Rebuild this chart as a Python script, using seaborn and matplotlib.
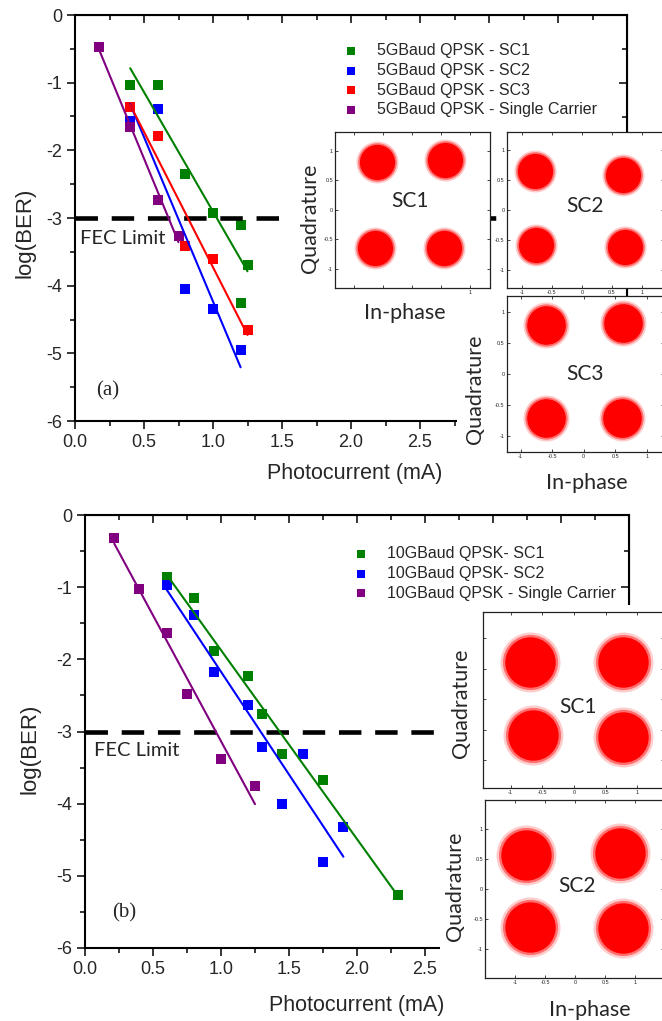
import numpy as np
import matplotlib
matplotlib.use("Agg")
import matplotlib.pyplot as plt
from matplotlib.ticker import MultipleLocator, FixedLocator, FixedFormatter, FuncFormatter
import seaborn as sns

# ---- panel (a): 5 GBaud QPSK ----
a_sc1_x = [0.4, 0.6, 0.8, 1.0, 1.2, 1.25, 1.2]
a_sc1_y = [-1.04, -1.04, -2.35, -2.92, -3.10, -3.69, -4.25]
a_sc2_x = [0.4, 0.6, 0.8, 1.0, 1.2]
a_sc2_y = [-1.57, -1.39, -4.05, -4.35, -4.95]
a_sc3_x = [0.4, 0.6, 0.8, 1.0, 1.25]
a_sc3_y = [-1.36, -1.79, -3.42, -3.61, -4.66]
a_single_x = [0.175, 0.4, 0.6, 0.75]
a_single_y = [-0.47, -1.65, -2.735, -3.26]

# ---- panel (b): 10 GBaud QPSK ----
b_sc1_x = [0.6, 0.8, 0.95, 1.2, 1.3, 1.45, 1.75, 2.3]
b_sc1_y = [-0.86, -1.145, -1.89, -2.23, -2.76, -3.31, -3.67, -5.27]
b_sc2_x = [0.6, 0.8, 0.95, 1.2, 1.3, 1.45, 1.6, 1.75, 1.9]
b_sc2_y = [-0.97, -1.39, -2.17, -2.63, -3.21, -4.0, -3.31, -4.81, -4.32]
b_single_x = [0.215, 0.4, 0.6, 0.75, 1.0, 1.25]
b_single_y = [-0.314, -1.02, -1.635, -2.48, -3.38, -3.75]

labels_a = ["5GBaud QPSK - SC1", "5GBaud QPSK - SC2", "5GBaud QPSK - SC3",
            "5GBaud QPSK - Single Carrier"]
labels_b = ["10GBaud QPSK- SC1", "10GBaud QPSK- SC2", "10GBaud QPSK - Single Carrier"]
fec_limit = -3
last_x_label = 2.5  # ticks further right sit under the insets

# constellation cluster centres (I, Q)
con_a1_i = [-0.60, 0.57, -0.64, 0.54]
con_a1_q = [0.81, 0.84, -0.65, -0.65]
con_a2_i = [-0.78, 0.69, -0.77, 0.72]
con_a2_q = [0.65, 0.59, -0.59, -0.62]
con_a3_i = [-0.60, 0.62, -0.60, 0.60]
con_a3_q = [0.80, 0.82, -0.71, -0.71]
con_b1_i = [-0.69, 0.78, -0.64, 0.78]
con_b1_q = [0.62, 0.62, -0.59, -0.61]
con_b2_i = [-0.81, 0.75, -0.75, 0.80]
con_b2_q = [0.57, 0.60, -0.62, -0.65]

GREEN, BLUE, RED, PURPLE = "#008000", "#0000ff", "#ff0000", "#800080"
W, H = 662, 1021

sns.set_style("ticks")
plt.rcParams["font.family"] = ["Liberation Sans", "DejaVu Sans"]
plt.rcParams["axes.unicode_minus"] = False
CAL = ["Lato", "DejaVu Sans"]


def box(x0, y0, x1, y1):
    return [x0 / W, 1 - y1 / H, (x1 - x0) / W, (y1 - y0) / H]


def fx(x):
    return x / W


def fy(y):
    return 1 - y / H


fig = plt.figure(figsize=(W / 100, H / 100), dpi=100)
fig.patch.set_facecolor("white")


def main_panel(rect, series, legend_xy, tag, tag_xy, fec_xy):
    ax = fig.add_axes(rect)
    for x, y, c, lab in series:
        sns.regplot(x=np.array(x), y=np.array(y), ax=ax, ci=None, truncate=True,
                    marker="s", color=c, label=lab,
                    scatter_kws={"s": 52, "alpha": 1, "linewidths": 0},
                    line_kws={"lw": 1.5})
    ax.axhline(fec_limit, color="black", lw=3.3, ls=(0, (4.9, 3.0)), zorder=1)
    ax.set_xlim(0, 4.0)
    ax.set_ylim(-6, 0)
    ax.set_xlabel("")
    ax.set_ylabel("")
    ax.xaxis.set_major_locator(MultipleLocator(0.5))
    ax.xaxis.set_minor_locator(MultipleLocator(0.25))
    ax.yaxis.set_major_locator(MultipleLocator(1))
    ax.yaxis.set_minor_locator(MultipleLocator(0.5))
    ax.xaxis.set_major_formatter(
        FuncFormatter(lambda v, p: f"{v:.1f}" if v <= last_x_label + 0.01 else ""))
    ax.tick_params(which="major", direction="out", length=6, width=1.3, labelsize=13, pad=3)
    ax.tick_params(which="minor", direction="out", length=3.5, width=1.3)
    for s in ax.spines.values():
        s.set_visible(True)
        s.set_linewidth(1.5)
        s.set_color("black")
    top = ax.secondary_xaxis("top")
    top.xaxis.set_major_locator(MultipleLocator(0.5))
    top.xaxis.set_minor_locator(MultipleLocator(0.25))
    top.tick_params(which="major", direction="in", length=6, width=1.3, labeltop=False)
    top.tick_params(which="minor", direction="in", length=3.5, width=1.3)
    right = ax.secondary_yaxis("right")
    right.yaxis.set_major_locator(MultipleLocator(1))
    right.yaxis.set_minor_locator(MultipleLocator(0.5))
    right.tick_params(which="major", direction="in", length=6, width=1.3, labelright=False)
    right.tick_params(which="minor", direction="in", length=3.5, width=1.3)
    ax.text(fec_xy[0], fec_xy[1], "FEC Limit", family=CAL, fontsize=14.5,
            ha="left", va="center")
    ax.text(tag_xy[0], tag_xy[1], tag, family=["Liberation Serif"], fontsize=15,
            ha="center", va="center")
    ax.legend(loc="upper left", bbox_to_anchor=legend_xy, bbox_transform=fig.transFigure,
              frameon=False, borderpad=0, borderaxespad=0, handlelength=0.8,
              handletextpad=1.2, labelspacing=0.3, fontsize=11.5, markerscale=0.7)
    return ax


ax_a = main_panel(box(75, 15, 627, 421),
                  [(a_sc1_x, a_sc1_y, GREEN, labels_a[0]),
                   (a_sc2_x, a_sc2_y, BLUE, labels_a[1]),
                   (a_sc3_x, a_sc3_y, RED, labels_a[2]),
                   (a_single_x, a_single_y, PURPLE, labels_a[3])],
                  (fx(345), fy(43)), "(a)", (0.24, -5.56), (0.036, -3.3))
ax_b = main_panel(box(85, 515, 629, 948),
                  [(b_sc1_x, b_sc1_y, GREEN, labels_b[0]),
                   (b_sc2_x, b_sc2_y, BLUE, labels_b[1]),
                   (b_single_x, b_single_y, PURPLE, labels_b[2])],
                  (fx(355), fy(546)), "(b)", (0.29, -5.51), (0.066, -3.27))

fig.text(fx(25), fy(233), "log(BER)", rotation=90, fontsize=16, ha="center", va="center")
fig.text(fx(30), fy(749), "log(BER)", rotation=90, fontsize=16, ha="center", va="center")
fig.text(fx(355), fy(474), "Photocurrent (mA)", fontsize=15.5, ha="center", va="center")
fig.text(fx(357), fy(1005), "Photocurrent (mA)", fontsize=15.5, ha="center", va="center")

# white backgrounds behind the pasted constellation insets
for bx in [(287, 125, 490, 330), (457, 296, 664, 500), (440, 605, 664, 797),
           (440, 797, 664, 1021)]:
    bg = fig.add_axes(box(*bx))
    bg.set_facecolor("white")
    bg.set_xticks([])
    bg.set_yticks([])
    for s in bg.spines.values():
        s.set_visible(False)


def constellation(rect, xlim, ylim, ci, cq, r_px, name, name_xy,
                  xlabels=True, ylabels=True, only_one=False):
    ax = fig.add_axes(rect)
    ax.set_facecolor("white")
    d = 2 * r_px * 0.72
    sns.scatterplot(x=ci, y=cq, ax=ax, s=d ** 2, color=RED, alpha=0.2,
                    linewidth=0, legend=False)
    sns.scatterplot(x=ci, y=cq, ax=ax, s=(d * 0.92) ** 2, color=RED, alpha=0.45,
                    linewidth=0, legend=False)
    sns.scatterplot(x=ci, y=cq, ax=ax, s=(d * 0.84) ** 2, color=RED, alpha=1,
                    linewidth=0, legend=False)
    ax.set_xlim(*xlim)
    ax.set_ylim(*ylim)
    ticks = [-1, -0.5, 0, 0.5, 1]
    names = ["-1", "-0.5", "0", "0.5", "1"]
    ax.xaxis.set_major_locator(FixedLocator(ticks))
    ax.yaxis.set_major_locator(FixedLocator(ticks))
    if only_one:
        ax.xaxis.set_major_formatter(FixedFormatter(["", "", "", "", "1"]))
    else:
        ax.xaxis.set_major_formatter(FixedFormatter(names))
    ax.yaxis.set_major_formatter(FixedFormatter(names))
    ax.tick_params(direction="in", length=2, width=0.6, labelsize=4, pad=1.5,
                   top=True, right=True, labelbottom=xlabels, labelleft=ylabels)
    ax.set_xlabel("")
    ax.set_ylabel("")
    for s in ax.spines.values():
        s.set_visible(True)
        s.set_linewidth(0.9)
        s.set_color("#222222")
    fig.text(fx(name_xy[0]), fy(name_xy[1]), name, family=CAL, fontsize=15,
             ha="center", va="center")
    return ax


constellation(box(335, 132, 490, 288), (-1.33, 1.34), (-1.33, 1.32),
              con_a1_i, con_a1_q, 21, "SC1", (410, 201), only_one=True)
constellation(box(506.7, 132, 664, 288), (-1.255, 1.37), (-1.3, 1.3),
              con_a2_i, con_a2_q, 21, "SC2", (585, 206))
constellation(box(506.7, 296, 664, 451.7), (-1.22, 1.27), (-1.25, 1.26),
              con_a3_i, con_a3_q, 23, "SC3", (585, 374))
constellation(box(483.3, 611.7, 664, 788.3), (-1.43, 1.42), (-1.46, 1.44),
              con_b1_i, con_b1_q, 30, "SC1", (578, 707), ylabels=False)
constellation(box(485, 800, 664, 978.3), (-1.5, 1.48), (-1.48, 1.49),
              con_b2_i, con_b2_q, 30, "SC2", (577, 886))

for (x, y) in [(310, 218), (475, 389), (461, 703), (455, 886)]:
    fig.text(fx(x), fy(y), "Quadrature", family=CAL, fontsize=15.5, rotation=90,
             ha="center", va="center")
for (x, y) in [(405, 313), (587, 483), (590, 1010)]:
    fig.text(fx(x), fy(y), "In-phase", family=CAL, fontsize=15.5,
             ha="center", va="center")

fig.savefig("out.png", dpi=100)
